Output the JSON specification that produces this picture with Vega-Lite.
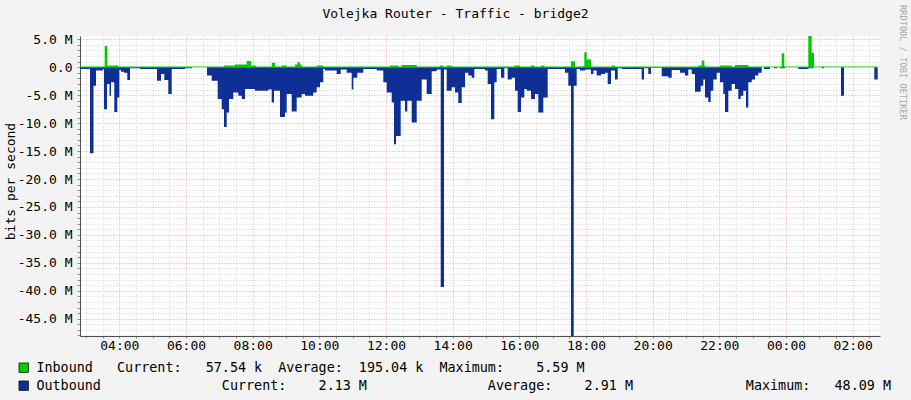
{
  "$schema": "https://vega.github.io/schema/vega-lite/v6.json",
  "width": 800,
  "height": 300,
  "autosize": {"type": "none"},
  "padding": {"left": 80, "top": 36, "right": 31, "bottom": 64},
  "background": "#F3F3F3",
  "config": {"view": {"fill": "#FFFFFF", "stroke": null}, "font": "DejaVu Sans Mono"},
  "title": {"text": "Volejka Router - Traffic - bridge2", "font": "DejaVu Sans Mono", "fontSize": 13, "fontWeight": "normal", "color": "#000000", "anchor": "middle", "frame": "group", "offset": -16.5, "dx": -24.5},
  "datasets": {
    "out": [
      {"t": 2.82, "v": -0.3}, {"t": 3.12, "v": -15.4}, {"t": 3.225, "v": -3.3}, {"t": 3.3, "v": -0.6},
      {"t": 3.51, "v": -0.3}, {"t": 3.54, "v": -7.5}, {"t": 3.63, "v": -3.0}, {"t": 3.705, "v": -5.1},
      {"t": 3.75, "v": -2.7}, {"t": 3.849, "v": -8.0}, {"t": 3.939, "v": -5.4}, {"t": 3.999, "v": -0.5},
      {"t": 4.05, "v": -0.8}, {"t": 4.14, "v": -1.0}, {"t": 4.239, "v": -2.3}, {"t": 4.32, "v": -0.2},
      {"t": 4.62, "v": -0.3}, {"t": 5.13, "v": -2.4}, {"t": 5.25, "v": -1.2}, {"t": 5.349, "v": -2.3},
      {"t": 5.469, "v": -4.8}, {"t": 5.571, "v": -0.3}, {"t": 5.97, "v": -0.2}, {"t": 6.18, "v": 0},
      {"t": 6.63, "v": -1.5}, {"t": 6.771, "v": -2.4}, {"t": 6.951, "v": -5.7}, {"t": 7.071, "v": -7.5},
      {"t": 7.14, "v": -10.7}, {"t": 7.221, "v": -8.1}, {"t": 7.29, "v": -5.7}, {"t": 7.419, "v": -4.5},
      {"t": 7.569, "v": -5.1}, {"t": 7.671, "v": -5.7}, {"t": 7.77, "v": -3.9}, {"t": 8.07, "v": -4.2},
      {"t": 8.469, "v": -4.0}, {"t": 8.571, "v": -6.3}, {"t": 8.64, "v": -4.2}, {"t": 8.82, "v": -8.9},
      {"t": 8.97, "v": -8.1}, {"t": 9.021, "v": -4.8}, {"t": 9.171, "v": -7.9}, {"t": 9.321, "v": -5.4},
      {"t": 9.471, "v": -4.8}, {"t": 9.57, "v": -5.1}, {"t": 9.819, "v": -4.5}, {"t": 9.921, "v": -3.6},
      {"t": 10.02, "v": -2.7}, {"t": 10.119, "v": -0.3}, {"t": 10.17, "v": -0.6}, {"t": 10.521, "v": -1.2},
      {"t": 10.641, "v": -0.4}, {"t": 10.821, "v": -1.0}, {"t": 10.971, "v": -4.0}, {"t": 11.019, "v": -1.9},
      {"t": 11.139, "v": -1.0}, {"t": 11.319, "v": -0.3}, {"t": 11.721, "v": -0.6}, {"t": 11.919, "v": -2.7},
      {"t": 12.021, "v": -4.5}, {"t": 12.171, "v": -6.3}, {"t": 12.24, "v": -13.8}, {"t": 12.3, "v": -12.3},
      {"t": 12.441, "v": -6.0}, {"t": 12.57, "v": -7.9}, {"t": 12.639, "v": -6.0}, {"t": 12.771, "v": -9.9},
      {"t": 12.921, "v": -6.0}, {"t": 13.071, "v": -2.2}, {"t": 13.221, "v": -4.8}, {"t": 13.371, "v": -0.7},
      {"t": 13.521, "v": -0.4}, {"t": 13.641, "v": -39.3}, {"t": 13.74, "v": -0.4}, {"t": 13.821, "v": -4.2},
      {"t": 13.971, "v": -3.6}, {"t": 14.07, "v": -4.5}, {"t": 14.169, "v": -6.4}, {"t": 14.271, "v": -3.6},
      {"t": 14.37, "v": -1.0}, {"t": 14.469, "v": -1.5}, {"t": 14.571, "v": -1.9}, {"t": 14.649, "v": -0.3},
      {"t": 14.97, "v": -0.6}, {"t": 15.051, "v": -3.0}, {"t": 15.15, "v": -9.3}, {"t": 15.249, "v": -2.7},
      {"t": 15.321, "v": -0.3}, {"t": 15.45, "v": -1.9}, {"t": 15.549, "v": -0.2}, {"t": 15.651, "v": -2.2},
      {"t": 15.771, "v": -1.9}, {"t": 15.87, "v": -4.2}, {"t": 15.951, "v": -8.0}, {"t": 16.05, "v": -5.4},
      {"t": 16.149, "v": -3.9}, {"t": 16.221, "v": -4.2}, {"t": 16.35, "v": -5.7}, {"t": 16.47, "v": -4.8},
      {"t": 16.569, "v": -8.1}, {"t": 16.719, "v": -5.4}, {"t": 16.851, "v": -0.3}, {"t": 17.37, "v": -1.0},
      {"t": 17.469, "v": -3.3}, {"t": 17.55, "v": -48.09}, {"t": 17.631, "v": -3.3}, {"t": 17.721, "v": -0.3},
      {"t": 17.82, "v": -0.6}, {"t": 17.97, "v": -0.4}, {"t": 18.15, "v": -1.2}, {"t": 18.219, "v": -0.6},
      {"t": 18.321, "v": -1.5}, {"t": 18.45, "v": -1.2}, {"t": 18.57, "v": -1.0}, {"t": 18.651, "v": -3.0},
      {"t": 18.75, "v": -0.6}, {"t": 18.87, "v": -2.2}, {"t": 18.951, "v": -0.2}, {"t": 19.071, "v": -0.3},
      {"t": 19.671, "v": -2.2}, {"t": 19.74, "v": -0.2}, {"t": 19.869, "v": -1.2}, {"t": 19.95, "v": -0.1},
      {"t": 20.271, "v": -1.6}, {"t": 20.469, "v": -1.9}, {"t": 20.571, "v": -0.5}, {"t": 20.82, "v": -1.0},
      {"t": 20.97, "v": -1.5}, {"t": 21.069, "v": -0.4}, {"t": 21.171, "v": -1.2}, {"t": 21.27, "v": -4.4},
      {"t": 21.441, "v": -3.3}, {"t": 21.519, "v": -2.2}, {"t": 21.57, "v": -5.4}, {"t": 21.669, "v": -6.2},
      {"t": 21.741, "v": -4.2}, {"t": 21.819, "v": -2.2}, {"t": 21.921, "v": -1.0}, {"t": 22.02, "v": -2.7},
      {"t": 22.119, "v": -4.8}, {"t": 22.17, "v": -8.0}, {"t": 22.269, "v": -4.2}, {"t": 22.371, "v": -3.0},
      {"t": 22.47, "v": -3.9}, {"t": 22.569, "v": -5.7}, {"t": 22.641, "v": -5.1}, {"t": 22.719, "v": -4.2},
      {"t": 22.8, "v": -7.2}, {"t": 22.869, "v": -2.7}, {"t": 22.971, "v": -2.2}, {"t": 23.07, "v": -1.5},
      {"t": 23.169, "v": -1.0}, {"t": 23.271, "v": 0}, {"t": 23.34, "v": -0.3}, {"t": 23.52, "v": 0},
      {"t": 23.64, "v": -0.2}, {"t": 23.739, "v": 0}, {"t": 23.82, "v": -0.2}, {"t": 23.97, "v": 0},
      {"t": 24.369, "v": -0.3}, {"t": 24.669, "v": -0.2}, {"t": 24.819, "v": 0}, {"t": 25.071, "v": -0.2},
      {"t": 25.14, "v": 0}, {"t": 25.65, "v": -5.1}, {"t": 25.74, "v": 0}, {"t": 26.649, "v": -2.2},
      {"t": 26.751, "v": 0}
    ],
    "in": [
      {"t": 2.82, "v": 0.15}, {"t": 3.561, "v": 3.8}, {"t": 3.639, "v": 0.3}, {"t": 3.969, "v": 0.15},
      {"t": 7.14, "v": 0.3}, {"t": 7.47, "v": 0.5}, {"t": 7.821, "v": 1.1}, {"t": 7.95, "v": 0.3},
      {"t": 8.1, "v": 0.15}, {"t": 8.571, "v": 0.8}, {"t": 8.67, "v": 0.15}, {"t": 8.871, "v": 0.3},
      {"t": 9.021, "v": 0.15}, {"t": 9.27, "v": 0.5}, {"t": 9.345, "v": 0.9}, {"t": 9.42, "v": 0.5},
      {"t": 9.471, "v": 0.15}, {"t": 9.921, "v": 0.3}, {"t": 10.119, "v": 0.15}, {"t": 12.12, "v": 0.3},
      {"t": 12.369, "v": 0.15}, {"t": 12.471, "v": 0.4}, {"t": 12.921, "v": 0.15}, {"t": 13.62, "v": 0.3},
      {"t": 13.719, "v": 0.15}, {"t": 13.821, "v": 0.3}, {"t": 13.971, "v": 0.15}, {"t": 15.849, "v": 0.3},
      {"t": 16.02, "v": 0.15}, {"t": 16.35, "v": 0.3}, {"t": 16.449, "v": 0.15}, {"t": 16.65, "v": 0.3},
      {"t": 16.749, "v": 0.15}, {"t": 17.55, "v": 1.07}, {"t": 17.67, "v": 0.15}, {"t": 17.949, "v": 2.7},
      {"t": 18.021, "v": 1.4}, {"t": 18.15, "v": 0.15}, {"t": 18.771, "v": 0.3}, {"t": 18.87, "v": 0.15},
      {"t": 21.369, "v": 0.3}, {"t": 21.471, "v": 1.2}, {"t": 21.549, "v": 0.3}, {"t": 21.57, "v": 0.15},
      {"t": 22.02, "v": 0.3}, {"t": 22.371, "v": 0.15}, {"t": 22.47, "v": 0.4}, {"t": 22.869, "v": 0.15},
      {"t": 23.871, "v": 2.5}, {"t": 23.949, "v": 0.15}, {"t": 24.669, "v": 5.59}, {"t": 24.771, "v": 2.6},
      {"t": 24.84, "v": 0.15}, {"t": 26.751, "v": 0.15}
    ]
  },
  "encoding": {
    "x": {
      "field": "t",
      "type": "quantitative",
      "scale": {"domain": [2.82, 26.82], "nice": false, "zero": false},
      "axis": {
        "title": null,
        "values": [3, 3.5, 4, 4.5, 5, 5.5, 6, 6.5, 7, 7.5, 8, 8.5, 9, 9.5, 10, 10.5, 11, 11.5, 12, 12.5, 13, 13.5, 14, 14.5, 15, 15.5, 16, 16.5, 17, 17.5, 18, 18.5, 19, 19.5, 20, 20.5, 21, 21.5, 22, 22.5, 23, 23.5, 24, 24.5, 25, 25.5, 26, 26.5],
        "labelExpr": "datum.value % 2 == 0 ? ((datum.value % 24) < 10 ? '0' : '') + (datum.value % 24) + ':00' : ''",
        "labelFont": "DejaVu Sans Mono",
        "labelFontSize": 13,
        "labelColor": "#000000",
        "labelPadding": 1,
        "labelOverlap": false,
        "labelFlush": false,
        "grid": true,
        "gridColor": {"condition": {"test": "datum.value % 2 == 0", "value": "#E8A0A0"}, "value": "#D0D0D0"},
        "gridDash": [1, 2],
        "gridWidth": 1,
        "ticks": true,
        "tickSize": 2,
        "tickColor": "#909090",
        "domainColor": "#505050",
        "domainWidth": 1
      }
    }
  },
  "layer": [
    {
      "data": {"name": "out"},
      "mark": {"type": "area", "interpolate": "step-after", "opacity": 1},
      "encoding": {
        "y": {
          "field": "v",
          "type": "quantitative",
          "scale": {"domain": [-48.09, 5.59], "nice": false, "zero": false},
          "axis": {
            "title": "bits per second",
            "titleFont": "DejaVu Sans Mono",
            "titleFontSize": 13,
            "titleFontWeight": "normal",
            "titleColor": "#000000",
            "titleAngle": -90,
            "titleX": -70,
            "titleY": 145,
            "titleAlign": "center",
            "titleBaseline": "middle",
            "values": [-48, -47, -46, -45, -44, -43, -42, -41, -40, -39, -38, -37, -36, -35, -34, -33, -32, -31, -30, -29, -28, -27, -26, -25, -24, -23, -22, -21, -20, -19, -18, -17, -16, -15, -14, -13, -12, -11, -10, -9, -8, -7, -6, -5, -4, -3, -2, -1, 0, 1, 2, 3, 4, 5],
            "labelExpr": "datum.value % 5 == 0 ? (datum.value == 0 ? '0.0' : (datum.value < 0 ? '-' : '') + format(abs(datum.value), '.1f') + ' M') : ''",
            "labelFont": "DejaVu Sans Mono",
            "labelFontSize": 13,
            "labelColor": "#000000",
            "labelPadding": 5,
            "labelOverlap": false,
            "labelFlush": false,
            "grid": true,
            "gridColor": {"condition": {"test": "datum.value % 5 == 0", "value": "#E8A0A0"}, "value": "#D0D0D0"},
            "gridDash": [1, 2],
            "gridWidth": 1,
            "ticks": true,
            "tickSize": 3,
            "tickColor": "#909090",
            "domainColor": "#505050",
            "domainWidth": 1
          }
        },
        "color": {
          "datum": "Outbound",
          "type": "nominal",
          "scale": {"domain": ["Inbound", "Outbound"], "range": ["#00CC00", "#0D2F96"]},
          "legend": {
            "title": null,
            "orient": "none",
            "legendX": -63,
            "legendY": 325,
            "direction": "vertical",
            "padding": 0,
            "symbolType": "square",
            "symbolSize": 90,
            "symbolStrokeColor": "#000000",
            "symbolStrokeWidth": 0.7,
            "symbolOpacity": 1,
            "labelFont": "DejaVu Sans Mono",
            "labelFontSize": 13.4,
            "labelColor": "#000000",
            "labelLimit": 1000,
            "labelOffset": 6,
            "rowPadding": 3,
            "labelExpr": "datum.label == 'Inbound' ? 'Inbound\u00a0\u00a0\u00a0Current:\u00a0\u00a0\u00a057.54\u00a0k\u00a0\u00a0Average:\u00a0\u00a0195.04\u00a0k\u00a0\u00a0Maximum:\u00a0\u00a0\u00a0\u00a05.59\u00a0M' : 'Outbound\u00a0\u00a0\u00a0\u00a0\u00a0\u00a0\u00a0\u00a0\u00a0\u00a0\u00a0\u00a0\u00a0\u00a0\u00a0Current:\u00a0\u00a0\u00a0\u00a02.13\u00a0M\u00a0\u00a0\u00a0\u00a0\u00a0\u00a0\u00a0\u00a0\u00a0\u00a0\u00a0\u00a0\u00a0\u00a0\u00a0Average:\u00a0\u00a0\u00a0\u00a02.91\u00a0M\u00a0\u00a0\u00a0\u00a0\u00a0\u00a0\u00a0\u00a0\u00a0\u00a0\u00a0\u00a0\u00a0\u00a0Maximum:\u00a0\u00a0\u00a048.09\u00a0M'"
          }
        }
      }
    },
    {
      "data": {"name": "in"},
      "mark": {"type": "area", "interpolate": "step-after", "opacity": 1},
      "encoding": {
        "y": {
          "field": "v",
          "type": "quantitative",
          "scale": {"domain": [-48.09, 5.59], "nice": false, "zero": false},
          "axis": {
            "orient": "right",
            "title": "RRDTOOL / TOBI OETIKER",
            "titleFont": "DejaVu Sans Mono",
            "titleFontSize": 8.7,
            "titleFontWeight": "normal",
            "titleColor": "#A8A8A8",
            "titleAngle": 90,
            "titleX": 22,
            "titleY": 26,
            "titleAlign": "center",
            "titleBaseline": "middle",
            "labels": false,
            "ticks": false,
            "domain": false,
            "grid": false
          }
        },
        "color": {"datum": "Inbound", "type": "nominal"}
      }
    }
  ],
  "resolve": {"axis": {"y": "independent"}}
}
